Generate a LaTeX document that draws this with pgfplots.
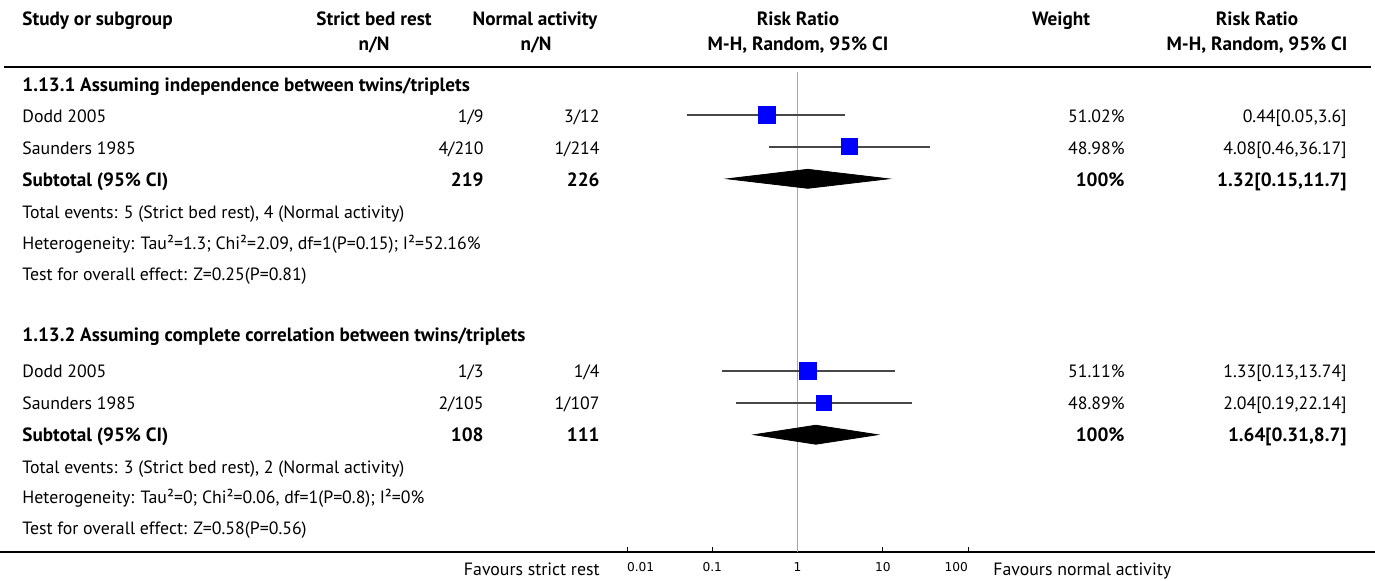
\documentclass[border=0pt]{standalone}
\usepackage{fontspec}
\setmainfont{PT Sans}
\newfontfamily\tickfont{DejaVu Sans}
\usepackage{pgfplots}
\pgfplotsset{compat=1.18}
\begin{document}
\begin{tikzpicture}
\begin{scope}[x=0.5pt,y=-0.5pt,
  txt/.style={inner sep=0pt, font=\fontsize{8.9}{11}\selectfont},
  bf/.style={inner sep=0pt, font=\fontsize{9.6}{11}\selectfont\bfseries}]
\useasboundingbox (0,0) rectangle (1375,580);
% header
\node[bf,anchor=base west] at (22,25) {Study or subgroup};
\node[bf,anchor=base] at (374,25) {Strict bed rest};
\node[bf,anchor=base] at (374,50) {n/N};
\node[bf,anchor=base] at (535,25) {Normal activity};
\node[bf,anchor=base] at (536,50) {n/N};
\node[bf,anchor=base] at (798,25) {Risk Ratio};
\node[bf,anchor=base] at (798,50) {M-H, Random, 95\% CI};
\node[bf,anchor=base] at (1061,25) {Weight};
\node[bf,anchor=base] at (1257,25) {Risk Ratio};
\node[bf,anchor=base] at (1257,50) {M-H, Random, 95\% CI};
\draw[line width=1pt] (4,67) -- (1371,67);
% group 1
\node[bf,anchor=base west] at (22,91) {1.13.1 Assuming independence between twins/triplets};
\node[txt,anchor=base west] at (22,122) {Dodd 2005};
\node[txt,anchor=base east] at (484,122) {1/9};
\node[txt,anchor=base east] at (600,122) {3/12};
\node[txt,anchor=base east] at (1125,122) {51.02\%};
\node[txt,anchor=base east] at (1347,122) {0.44[0.05,3.6]};
\node[txt,anchor=base west] at (22,154) {Saunders 1985};
\node[txt,anchor=base east] at (484,154) {4/210};
\node[txt,anchor=base east] at (600,154) {1/214};
\node[txt,anchor=base east] at (1125,154) {48.98\%};
\node[txt,anchor=base east] at (1347,154) {4.08[0.46,36.17]};
\node[bf,anchor=base west] at (22,186) {Subtotal (95\% CI)};
\node[bf,anchor=base east] at (484,186) {219};
\node[bf,anchor=base east] at (600,186) {226};
\node[bf,anchor=base east] at (1125,186) {100\%};
\node[bf,anchor=base east] at (1347,186) {1.32[0.15,11.7]};
\node[txt,anchor=base west] at (22,218) {Total events: 5 (Strict bed rest), 4 (Normal activity)};
\node[txt,anchor=base west] at (22,249) {Heterogeneity: Tau²=1.3; Chi²=2.09, df=1(P=0.15); I²=52.16\%};
\node[txt,anchor=base west] at (22,280) {Test for overall effect: Z=0.25(P=0.81)};
% group 2
\node[bf,anchor=base west] at (22,341) {1.13.2 Assuming complete correlation between twins/triplets};
\node[txt,anchor=base west] at (22,377) {Dodd 2005};
\node[txt,anchor=base east] at (484,377) {1/3};
\node[txt,anchor=base east] at (600,377) {1/4};
\node[txt,anchor=base east] at (1125,377) {51.11\%};
\node[txt,anchor=base east] at (1347,377) {1.33[0.13,13.74]};
\node[txt,anchor=base west] at (22,409) {Saunders 1985};
\node[txt,anchor=base east] at (484,409) {2/105};
\node[txt,anchor=base east] at (600,409) {1/107};
\node[txt,anchor=base east] at (1125,409) {48.89\%};
\node[txt,anchor=base east] at (1347,409) {2.04[0.19,22.14]};
\node[bf,anchor=base west] at (22,441) {Subtotal (95\% CI)};
\node[bf,anchor=base east] at (484,441) {108};
\node[bf,anchor=base east] at (600,441) {111};
\node[bf,anchor=base east] at (1125,441) {100\%};
\node[bf,anchor=base east] at (1347,441) {1.64[0.31,8.7]};
\node[txt,anchor=base west] at (22,473) {Total events: 3 (Strict bed rest), 2 (Normal activity)};
\node[txt,anchor=base west] at (22,503) {Heterogeneity: Tau²=0; Chi²=0.06, df=1(P=0.8); I²=0\%};
\node[txt,anchor=base west] at (22,534) {Test for overall effect: Z=0.58(P=0.56)};
% bottom
\draw[line width=0.85pt] (0,552) -- (1375,552);
\node[txt,anchor=base east] at (600,575) {Favours strict rest};
\node[txt,anchor=base west] at (993,575) {Favours normal activity};
\end{scope}
\begin{axis}[
  at={(313.5pt,-276pt)}, anchor=south west,
  scale only axis, width=170.5pt, height=241pt,
  xmode=log, xmin=0.01, xmax=100, ymin=70, ymax=552, y dir=reverse,
  clip=false, hide y axis, axis x line=bottom, axis line style={-,line width=0.85pt},
  xtick={0.01,0.1,1,10,100},
  xticklabels={\rlap{0.01},0.1,1,10,\llap{100}},
  xminorticks=false, tick align=inside, major tick length=2.5pt,
  tick style={black, line width=0.5pt},
  xticklabel style={font=\tickfont\fontsize{6.1}{7}\selectfont, text=black, anchor=base, yshift=-9.5pt},
]
\addplot[color=black!35, line width=0.8pt] coordinates {(1,72) (1,552)};
% group 1
\addplot[color=black!72, line width=0.8pt] coordinates {(0.05,114.7) (3.6,114.7)};
\addplot[color=black!72, line width=0.8pt] coordinates {(0.46,146.7) (36.17,146.7)};
\addplot[only marks, mark=square*, mark size=4.17pt, color=blue] coordinates {(0.44,114.7)};
\addplot[only marks, mark=square*, mark size=4.0pt, color=blue] coordinates {(4.08,146.7)};
\addplot[black, line width=0.7pt] coordinates {(0.44,110.3) (0.44,119.1)};
\addplot[black, line width=0.7pt] coordinates {(4.08,142.3) (4.08,151.1)};
\addplot[fill=black, draw=black] coordinates {(0.15,178.8) (1.32,169.3) (11.7,178.8) (1.32,188.3)} -- cycle;
% group 2
\addplot[color=black!72, line width=0.8pt] coordinates {(0.13,370.7) (13.74,370.7)};
\addplot[color=black!72, line width=0.8pt] coordinates {(0.19,402.7) (22.14,402.7)};
\addplot[only marks, mark=square*, mark size=4.17pt, color=blue] coordinates {(1.33,370.7)};
\addplot[only marks, mark=square*, mark size=3.83pt, color=blue] coordinates {(2.04,402.7)};
\addplot[black, line width=0.7pt] coordinates {(1.33,366.3) (1.33,375.1)};
\addplot[black, line width=0.7pt] coordinates {(2.04,398.3) (2.04,407.1)};
\addplot[fill=black, draw=black] coordinates {(0.31,434.7) (1.64,425.2) (8.7,434.7) (1.64,444.2)} -- cycle;
\end{axis}
\end{tikzpicture}
\end{document}
